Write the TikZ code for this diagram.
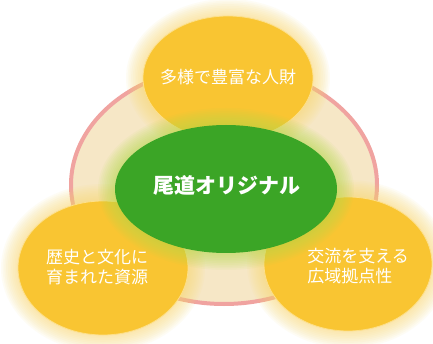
\documentclass[tikz,border=0pt]{standalone}
\usepackage{fontspec}
\newfontfamily\jp{Noto Sans CJK JP}
\usetikzlibrary{shapes.geometric}
\definecolor{ringpink}{HTML}{F0A3A0}
\definecolor{cream}{HTML}{F6E7C6}
\definecolor{gold}{HTML}{F9C532}
\definecolor{goldglow}{HTML}{FBD96E}
\definecolor{goldedge}{HTML}{FDE08A}
\definecolor{leaf}{HTML}{3BA526}
\definecolor{leafglow}{HTML}{B4DA48}
\newcommand\myglow[5]{%
  \foreach \k in {1,...,10}{\fill[#5,opacity=0.07] (#1,#2) ellipse[x radius=#3+\k*1.7, y radius=#4+\k*1.7];}}
\tikzset{
  pill/.style={ellipse, fill=gold, draw=goldedge, line width=0.8pt, inner sep=0pt},
  lbl/.style={text=white, font=\jp\fontsize{17}{19.5}\selectfont, inner sep=0pt, align=left},
}
\begin{document}
\begin{tikzpicture}[x=1pt,y=-1pt]
\fill[white] (0,0) rectangle (433,344);
\useasboundingbox (0,0) rectangle (433,344);
% ring
\node[ellipse, draw=ringpink, line width=4pt, fill=cream, minimum width=306pt, minimum height=238pt] (ring) at (224,185) {};
% yellow glows
\myglow{228}{78}{85}{62}{goldglow}
\myglow{103}{268}{85}{67}{goldglow}
\myglow{348}{264}{84}{67}{goldglow}
% yellow circles
\node[pill, minimum width=170pt, minimum height=124pt] (top) at (228,78) {};
\node[pill, minimum width=170pt, minimum height=134pt] (left) at (103,268) {};
\node[pill, minimum width=168pt, minimum height=134pt] (right) at (348,264) {};
% green glow and ellipse
\myglow{226}{189}{111}{64}{leafglow}
\node[ellipse, fill=leaf, minimum width=222pt, minimum height=128pt, inner sep=0pt] (center) at (226,189) {};
% labels
\node[lbl] (ttop) at (228,77) {多様で豊富な人財};
\node[lbl] (tleft) at (97,267) {歴史と文化に\\育まれた資源};
\node[lbl] (tright) at (358,266) {交流を支える\\広域拠点性};
\node[text=white, font=\jp\bfseries\fontsize{21}{24}\selectfont, inner sep=0pt] (tcenter) at (227,185) {尾道オリジナル};
\end{tikzpicture}
\end{document}
